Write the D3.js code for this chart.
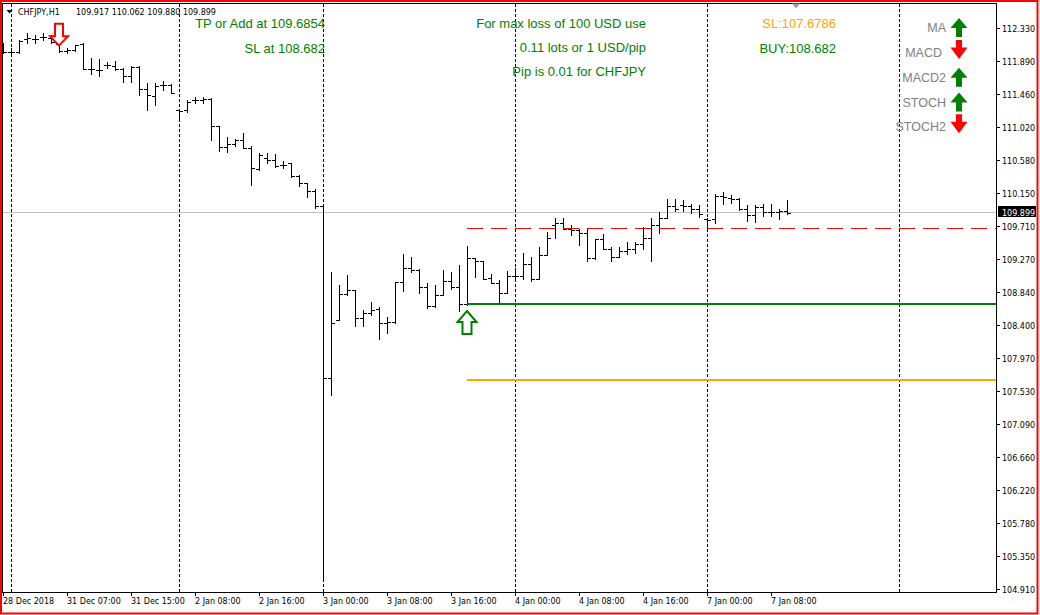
<!DOCTYPE html>
<html>
<head>
<meta charset="utf-8">
<script src="https://cdn.jsdelivr.net/npm/d3@7"></script>
<style>
  body { margin: 0; background: #fff; }
  svg { display: block; }
  .small { font-family: "DejaVu Sans", Verdana, sans-serif; font-size: 8px; fill: #000; }
  .note  { font-family: "Liberation Sans", Arial, sans-serif; font-size: 13px; }
  .ind   { font-family: "Liberation Sans", Arial, sans-serif; font-size: 12.5px; fill: #808080; }
</style>
</head>
<body>
<svg id="chart" width="1040" height="615"></svg>
<script>
// CHFJPY H1 bars, 28 Dec 2018 23:00 .. 7 Jan 2019 10:00
var opens = [
  112.052, 112.026, 112.020, 112.198, 112.198, 112.224, 112.211, 112.132, 112.039, 112.052,
  112.132, 111.801, 111.788, 111.854, 111.840, 111.801, 111.708, 111.827, 111.536, 111.444,
  111.589, 111.589, 111.258, 111.258, 111.391, 111.391, 111.404, 111.047, 110.769, 110.809,
  110.861, 110.756, 110.478, 110.623, 110.597, 110.531, 110.557, 110.385, 110.293, 110.187,
  109.988, 107.713, 108.480, 108.824, 108.877, 108.507, 108.573, 108.626, 108.440, 108.454,
  108.983, 109.168, 109.142, 108.917, 108.665, 108.811, 108.996, 108.917, 108.692, 109.300,
  109.261, 109.036, 108.970, 108.837, 109.062, 109.062, 109.221, 109.022, 109.340, 109.737,
  109.763, 109.684, 109.671, 109.631, 109.300, 109.552, 109.419, 109.314, 109.393, 109.419,
  109.486, 109.565, 109.737, 109.830, 109.988, 110.002, 109.988, 109.949, 109.816, 109.816,
  110.121, 110.094, 110.081, 109.949, 109.869, 109.975, 109.909, 109.909, 109.917
];
var highs = [
  112.145, 112.079, 112.184, 112.277, 112.251, 112.277, 112.251, 112.145, 112.079, 112.118,
  112.145, 111.946, 111.933, 111.893, 111.907, 111.814, 111.840, 111.840, 111.616, 111.616,
  111.642, 111.602, 111.272, 111.391, 111.430, 111.430, 111.417, 111.047, 110.901, 110.875,
  110.954, 110.782, 110.689, 110.689, 110.676, 110.584, 110.557, 110.398, 110.293, 110.213,
  110.002, 109.115, 108.943, 109.075, 108.877, 108.612, 108.718, 108.652, 108.520, 108.983,
  109.353, 109.314, 109.155, 108.970, 108.943, 109.142, 109.115, 109.208, 109.459, 109.300,
  109.261, 109.089, 109.009, 109.128, 109.168, 109.366, 109.314, 109.446, 109.644, 109.830,
  109.830, 109.737, 109.684, 109.684, 109.552, 109.618, 109.446, 109.446, 109.512, 109.512,
  109.710, 109.830, 109.909, 110.081, 110.081, 110.068, 110.015, 110.002, 109.830, 110.147,
  110.174, 110.134, 110.094, 110.002, 110.002, 110.015, 110.015, 109.949, 110.062
];
var lows = [
  112.012, 112.012, 112.012, 112.145, 112.145, 112.184, 112.145, 112.026, 112.012, 112.039,
  111.801, 111.735, 111.708, 111.814, 111.788, 111.629, 111.629, 111.457, 111.258, 111.325,
  111.523, 111.483, 111.139, 111.232, 111.351, 111.351, 110.861, 110.716, 110.703, 110.782,
  110.756, 110.266, 110.465, 110.557, 110.504, 110.491, 110.372, 110.253, 110.107, 109.962,
  105.067, 107.488, 108.480, 108.811, 108.401, 108.401, 108.546, 108.229, 108.308, 108.440,
  108.864, 109.115, 108.837, 108.639, 108.652, 108.811, 108.890, 108.599, 108.679, 109.049,
  109.022, 108.970, 108.705, 108.837, 109.009, 109.022, 108.996, 109.022, 109.340, 109.565,
  109.684, 109.605, 109.472, 109.261, 109.287, 109.419, 109.261, 109.314, 109.353, 109.366,
  109.419, 109.261, 109.631, 109.830, 109.922, 109.922, 109.896, 109.843, 109.710, 109.763,
  110.015, 110.028, 109.935, 109.790, 109.777, 109.856, 109.856, 109.816, 109.880
];
var closes = [
  112.026, 112.020, 112.171, 112.211, 112.198, 112.224, 112.158, 112.039, 112.052, 112.118,
  111.801, 111.801, 111.788, 111.854, 111.801, 111.708, 111.827, 111.536, 111.457, 111.576,
  111.589, 111.483, 111.250, 111.364, 111.391, 111.404, 111.047, 110.769, 110.809, 110.861,
  110.756, 110.491, 110.663, 110.597, 110.517, 110.531, 110.385, 110.293, 110.187, 109.988,
  107.713, 108.440, 108.824, 108.877, 108.507, 108.573, 108.612, 108.440, 108.454, 108.983,
  109.168, 109.142, 108.917, 108.665, 108.811, 108.996, 108.917, 108.692, 109.300, 109.261,
  109.022, 108.970, 108.837, 109.062, 109.062, 109.221, 109.022, 109.340, 109.565, 109.763,
  109.684, 109.671, 109.631, 109.300, 109.552, 109.419, 109.314, 109.393, 109.419, 109.486,
  109.565, 109.737, 109.830, 109.988, 109.949, 109.988, 109.949, 109.882, 109.803, 110.121,
  110.107, 110.081, 109.949, 109.869, 109.975, 109.909, 109.909, 109.922, 109.899
];

var timeLabels   = ["28 Dec 2018", "31 Dec 07:00", "31 Dec 15:00", "2 Jan 08:00", "2 Jan 16:00",
                    "3 Jan 00:00", "3 Jan 08:00", "3 Jan 16:00", "4 Jan 00:00", "4 Jan 08:00",
                    "4 Jan 16:00", "7 Jan 00:00", "7 Jan 08:00"];
var timeLabelBars = [0, 8, 16, 24, 32, 40, 48, 56, 64, 72, 80, 88, 96];
var daySeparators = [1, 22, 40, 64, 88, 112];   // bar index of each new day
var priceTicks = [112.330, 111.890, 111.460, 111.020, 110.580, 110.150, 109.710, 109.270, 108.840,
                  108.400, 107.970, 107.530, 107.090, 106.660, 106.220, 105.780, 105.350, 104.910];

var symbolTitle = "CHFJPY,H1";
var bidPrice = 109.899;
var tpLevel = 109.6854, buyLevel = 108.682, slLevel = 107.6786;
var entryBar = 58, sellSignalBar = 7;
var buyArrowPrice = 108.60, sellArrowPrice = 112.11;

var indicatorNames = ["MA", "MACD", "MACD2", "STOCH", "STOCH2"];
var indicatorDirs  = ["up", "down", "up", "up", "down"];

var leftNotes  = ["TP or Add at 109.6854", "SL at 108.682"];
var midNotes   = ["For max loss of 100 USD use", "0.11 lots or 1 USD/pip", "Pip is 0.01 for CHFJPY"];
var rightNotes = [{t: "SL:107.6786", c: "#ffa500"}, {t: "BUY:108.682", c: "#008000"}];

// --- setup ---
var svg = d3.select("#chart");
var plotL = 2, plotT = 3, plotR = 996, plotB = 592;
var green = "#008000", red = "#ff0000";

var x = d3.scaleLinear().domain([0, 98]).range([3, 787]);
var y = d3.scaleLinear().domain([104.91, 112.33]).range([590, 29]);
function py(v) { return Math.round(y(v)); }

var bars = opens.map(function (o, i) {
  return { i: i, o: o, h: highs[i], l: lows[i], c: closes[i] };
});

svg.append("defs").append("clipPath").attr("id", "plot")
  .append("rect").attr("x", plotL + 1).attr("y", plotT + 1)
  .attr("width", plotR - plotL - 1).attr("height", plotB - plotT - 1);

// outer red border and chart frame
svg.append("rect").attr("x", 1).attr("y", 1).attr("width", 1036.5).attr("height", 612.5)
  .attr("fill", "none").attr("stroke", red).attr("stroke-width", 2);
svg.append("rect").attr("x", plotL + 0.5).attr("y", plotT + 0.5)
  .attr("width", plotR - plotL).attr("height", plotB - plotT)
  .attr("fill", "none").attr("stroke", "#000").attr("stroke-width", 1);

var plot = svg.append("g").attr("clip-path", "url(#plot)").attr("shape-rendering", "crispEdges");

// bid line
plot.append("rect").attr("x", plotL).attr("y", py(bidPrice) - 1)
  .attr("width", plotR - plotL).attr("height", 1).attr("fill", "#c0c0c0");

// day separators
plot.selectAll(".sep").data(daySeparators).enter().append("line")
  .attr("x1", d => x(d) + 0.5).attr("x2", d => x(d) + 0.5)
  .attr("y1", plotT + 1).attr("y2", plotB)
  .attr("stroke", "#000").attr("stroke-width", 1).attr("stroke-dasharray", "3,2");

// OHLC bars
plot.selectAll(".hl").data(bars).enter().append("rect")
  .attr("x", d => x(d.i)).attr("y", d => py(d.h))
  .attr("width", 1).attr("height", d => Math.max(1, py(d.l) - py(d.h) + 1)).attr("fill", "#000");
plot.selectAll(".op").data(bars).enter().append("rect")
  .attr("x", d => x(d.i) - 3).attr("y", d => py(d.o))
  .attr("width", 3).attr("height", 1).attr("fill", "#000");
plot.selectAll(".cl").data(bars).enter().append("rect")
  .attr("x", d => x(d.i) + 1).attr("y", d => py(d.c))
  .attr("width", 3).attr("height", 1).attr("fill", "#000");

// trade levels from entry bar to the right edge
var lx = x(entryBar);
plot.append("line").attr("x1", lx).attr("x2", plotR)
  .attr("y1", py(tpLevel) - 0.5).attr("y2", py(tpLevel) - 0.5)
  .attr("stroke", red).attr("stroke-width", 1).attr("stroke-dasharray", "16,8");
plot.append("rect").attr("x", lx).attr("y", py(buyLevel) - 2)
  .attr("width", plotR - lx).attr("height", 2).attr("fill", green);
plot.append("rect").attr("x", lx).attr("y", py(slLevel) - 2)
  .attr("width", plotR - lx).attr("height", 2).attr("fill", "#ffa500");

// signal arrows (hollow)
var sx = x(sellSignalBar), sy = y(sellArrowPrice);
svg.append("path")
  .attr("d", "M" + (sx - 4) + "," + (sy - 22) + "L" + (sx + 4) + "," + (sy - 22) +
             "L" + (sx + 4) + "," + (sy - 9.5) + "L" + (sx + 9) + "," + (sy - 9.5) +
             "L" + sx + "," + sy + "L" + (sx - 9) + "," + (sy - 9.5) +
             "L" + (sx - 4) + "," + (sy - 9.5) + "Z")
  .attr("fill", "#fff").attr("stroke", red).attr("stroke-width", 2);
var bx = x(entryBar), by = y(buyArrowPrice);
svg.append("path")
  .attr("d", "M" + bx + "," + by + "L" + (bx + 9.5) + "," + (by + 11) +
             "L" + (bx + 4.5) + "," + (by + 11) + "L" + (bx + 4.5) + "," + (by + 23) +
             "L" + (bx - 4.5) + "," + (by + 23) + "L" + (bx - 4.5) + "," + (by + 11) +
             "L" + (bx - 9.5) + "," + (by + 11) + "Z")
  .attr("fill", "#fff").attr("stroke", green).attr("stroke-width", 2);

// chart shift marker
svg.append("path").attr("d", "M792,3.5L800,3.5L796,8.5Z").attr("fill", "#a0a0a0");

// price axis
var axisG = svg.append("g").attr("shape-rendering", "crispEdges");
axisG.selectAll(".pt").data(priceTicks).enter().append("rect")
  .attr("x", plotR + 1).attr("y", d => py(d) - 1).attr("width", 3).attr("height", 1).attr("fill", "#000");
svg.selectAll(".pl").data(priceTicks).enter().append("text").attr("class", "small")
  .attr("x", 1002).attr("y", d => py(d) + 2.5).text(d => d.toFixed(3));

// bid price box
svg.append("rect").attr("x", 998).attr("y", py(bidPrice) - 7).attr("width", 38).attr("height", 11).attr("fill", "#000");
svg.append("text").attr("class", "small").attr("x", 1002).attr("y", py(bidPrice) + 2.5)
  .style("fill", "#fff").text(bidPrice.toFixed(3));

// time axis
axisG.selectAll(".tt").data(timeLabelBars).enter().append("rect")
  .attr("x", d => x(d)).attr("y", plotB + 1).attr("width", 1).attr("height", 3).attr("fill", "#000");
svg.selectAll(".tl").data(timeLabels).enter().append("text").attr("class", "small")
  .attr("x", (d, i) => x(timeLabelBars[i])).attr("y", 604).text(d => d);

// header
svg.append("path").attr("d", "M6.5,10L12.5,10L9.5,13.5Z").attr("fill", "#000");
svg.append("text").attr("class", "small").attr("x", 18).attr("y", 15).text(symbolTitle);
var last = bars[bars.length - 1];
svg.append("text").attr("class", "small").attr("x", 76).attr("y", 15)
  .text([last.o, last.h, last.l, last.c].map(v => v.toFixed(3)).join(" "));

// notes
svg.selectAll(".ln").data(leftNotes).enter().append("text").attr("class", "note")
  .attr("x", 325).attr("y", (d, i) => 27.5 + i * 25).attr("text-anchor", "end")
  .style("fill", green).text(d => d);
svg.selectAll(".mn").data(midNotes).enter().append("text").attr("class", "note")
  .attr("x", 646).attr("y", (d, i) => 27.5 + i * 24.3).attr("text-anchor", "end")
  .style("fill", green).text(d => d);
svg.selectAll(".rn").data(rightNotes).enter().append("text").attr("class", "note")
  .attr("x", 836).attr("y", (d, i) => 27.5 + i * 25).attr("text-anchor", "end")
  .style("fill", d => d.c).text(d => d.t);

// indicator panel
var indG = svg.append("g");
indicatorNames.forEach(function (name, i) {
  var cy = 27.6 + i * 24.8;
  indG.append("text").attr("class", "ind")
    .attr("x", name === "MACD" ? 942 : 946).attr("y", cy + 4.5)
    .attr("text-anchor", "end").text(name);
  var cx = 959, p;
  if (indicatorDirs[i] === "up") {
    p = "M" + cx + "," + (cy - 9.5) + "L" + (cx + 8.5) + "," + (cy + 0.5) +
        "L" + (cx + 3) + "," + (cy + 0.5) + "L" + (cx + 3) + "," + (cy + 9.5) +
        "L" + (cx - 3) + "," + (cy + 9.5) + "L" + (cx - 3) + "," + (cy + 0.5) +
        "L" + (cx - 8.5) + "," + (cy + 0.5) + "Z";
    indG.append("path").attr("d", p).attr("fill", green);
  } else {
    var c2 = cy - 3;
    p = "M" + (cx - 3) + "," + (c2 - 9.5) + "L" + (cx + 3) + "," + (c2 - 9.5) +
        "L" + (cx + 3) + "," + (c2 - 2) + "L" + (cx + 8.5) + "," + (c2 - 2) +
        "L" + cx + "," + (c2 + 9.5) + "L" + (cx - 8.5) + "," + (c2 - 2) +
        "L" + (cx - 3) + "," + (c2 - 2) + "Z";
    indG.append("path").attr("d", p).attr("fill", red);
  }
});
</script>
</body>
</html>
